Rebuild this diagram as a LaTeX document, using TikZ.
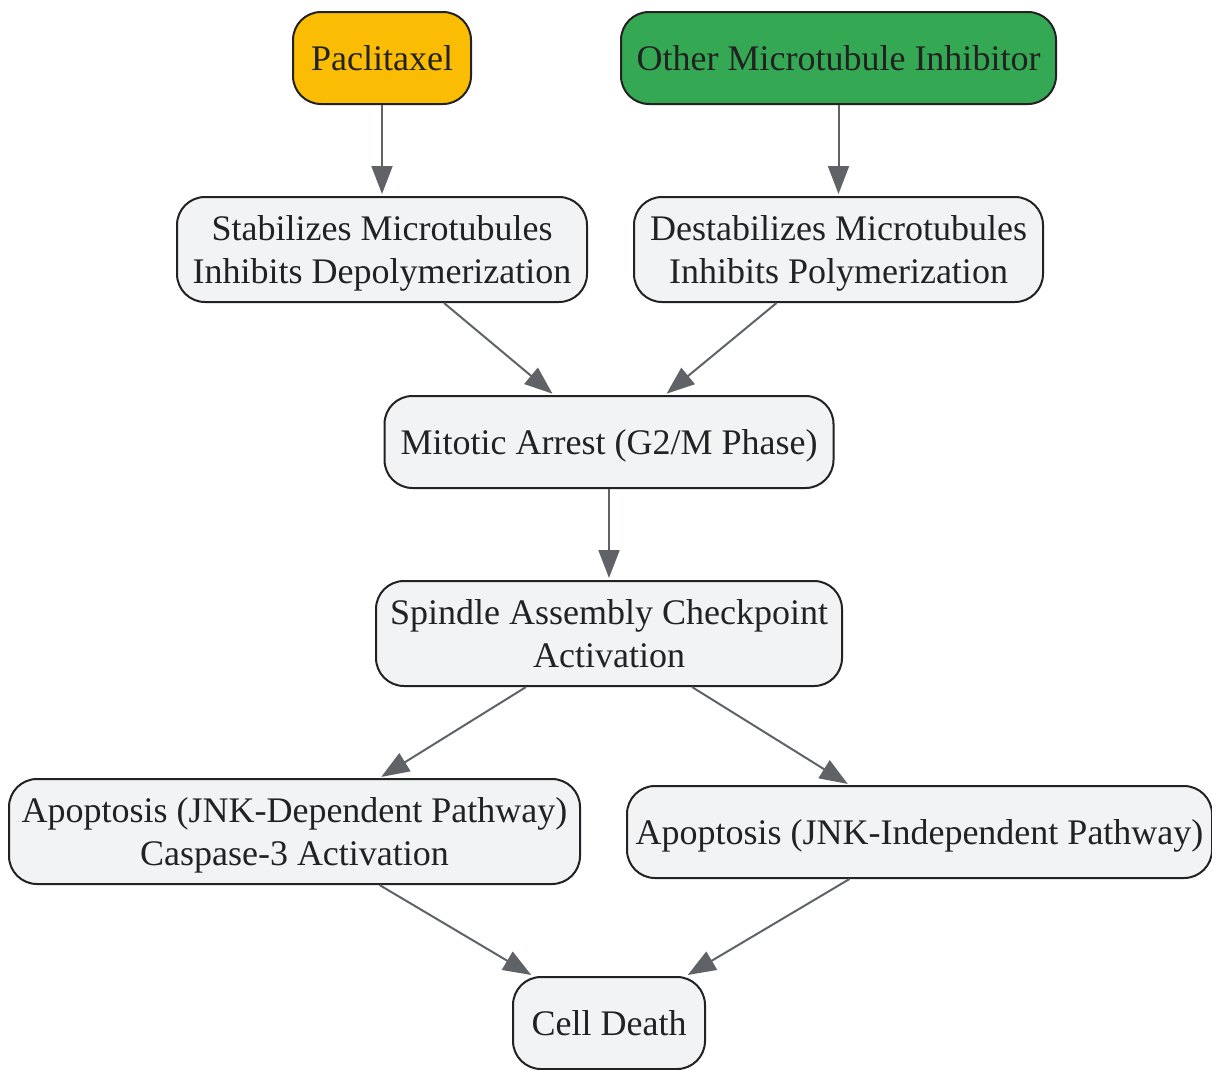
\documentclass[tikz,border=0pt]{standalone}
\usepackage{fontspec}
\setmainfont{Liberation Serif}
\usepackage{xcolor}
\usetikzlibrary{arrows.meta}

\definecolor{boxfill}{HTML}{F1F3F4}
\definecolor{boxline}{HTML}{222222}
\definecolor{pacgold}{HTML}{FBBC04}
\definecolor{othgreen}{HTML}{34A853}
\definecolor{arrowgray}{HTML}{5F6368}

\begin{document}
\begin{tikzpicture}[x=1pt,y=-1pt,
    box/.style={rectangle,rounded corners=28pt,draw=boxline,line width=2pt,
      fill=boxfill,text=boxline,align=center,inner sep=0pt,text depth=0pt,
      font=\fontsize{36}{43}\selectfont,minimum height=#1},
    box/.default=92pt,
    flow/.style={draw=arrowgray,line width=2pt,shorten >=2pt,
      -{Triangle[length=28pt,width=21pt]},arrowgray}]
      \useasboundingbox (0,0) rectangle (1212,1069);
      \node (pacli) [box,fill=pacgold,minimum width=178pt] at (382,58) {Paclitaxel};
      \node (other) [box,fill=othgreen,minimum width=435pt] at (838.5,58) {Other Microtubule Inhibitor};
      \node (stab) [box=105pt,minimum width=410pt] at (382,249.5) {Stabilizes Microtubules\\Inhibits Depolymerization};
      \node (destab) [box=105pt,minimum width=409pt] at (838.5,249.5) {Destabilizes Microtubules\\Inhibits Polymerization};
      \node (arrest) [box,minimum width=449pt] at (609,442) {Mitotic Arrest (G2/M Phase)};
      \node (sac) [box=105pt,minimum width=466pt] at (609,633.5) {Spindle Assembly Checkpoint\\Activation};
      \node (jnkdep) [box=105pt,minimum width=571pt] at (294.5,831.5) {Apoptosis (JNK-Dependent Pathway)\\Caspase-3 Activation};
      \node (jnkind) [box,minimum width=585pt] at (919.5,832) {Apoptosis (JNK-Independent Pathway)};
      \node (death) [box,minimum width=192pt] at (609,1023) {Cell Death};
      \draw[flow] (pacli) -- (stab);
      \draw[flow] (other) -- (destab);
      \draw[flow] ([xshift=62pt]stab.south) -- ([xshift=-55pt]arrest.north);
      \draw[flow] ([xshift=-62pt]destab.south) -- ([xshift=56pt]arrest.north);
      \draw[flow] (arrest) -- (sac);
      \draw[flow] ([xshift=-83pt]sac.south) -- ([xshift=85pt]jnkdep.north);
      \draw[flow] ([xshift=83pt]sac.south) -- ([xshift=-70pt]jnkind.north);
      \draw[flow] ([xshift=85pt]jnkdep.south) -- ([xshift=-76pt]death.north);
      \draw[flow] ([xshift=-70pt]jnkind.south) -- ([xshift=77pt]death.north);
    \end{tikzpicture}
\end{document}
